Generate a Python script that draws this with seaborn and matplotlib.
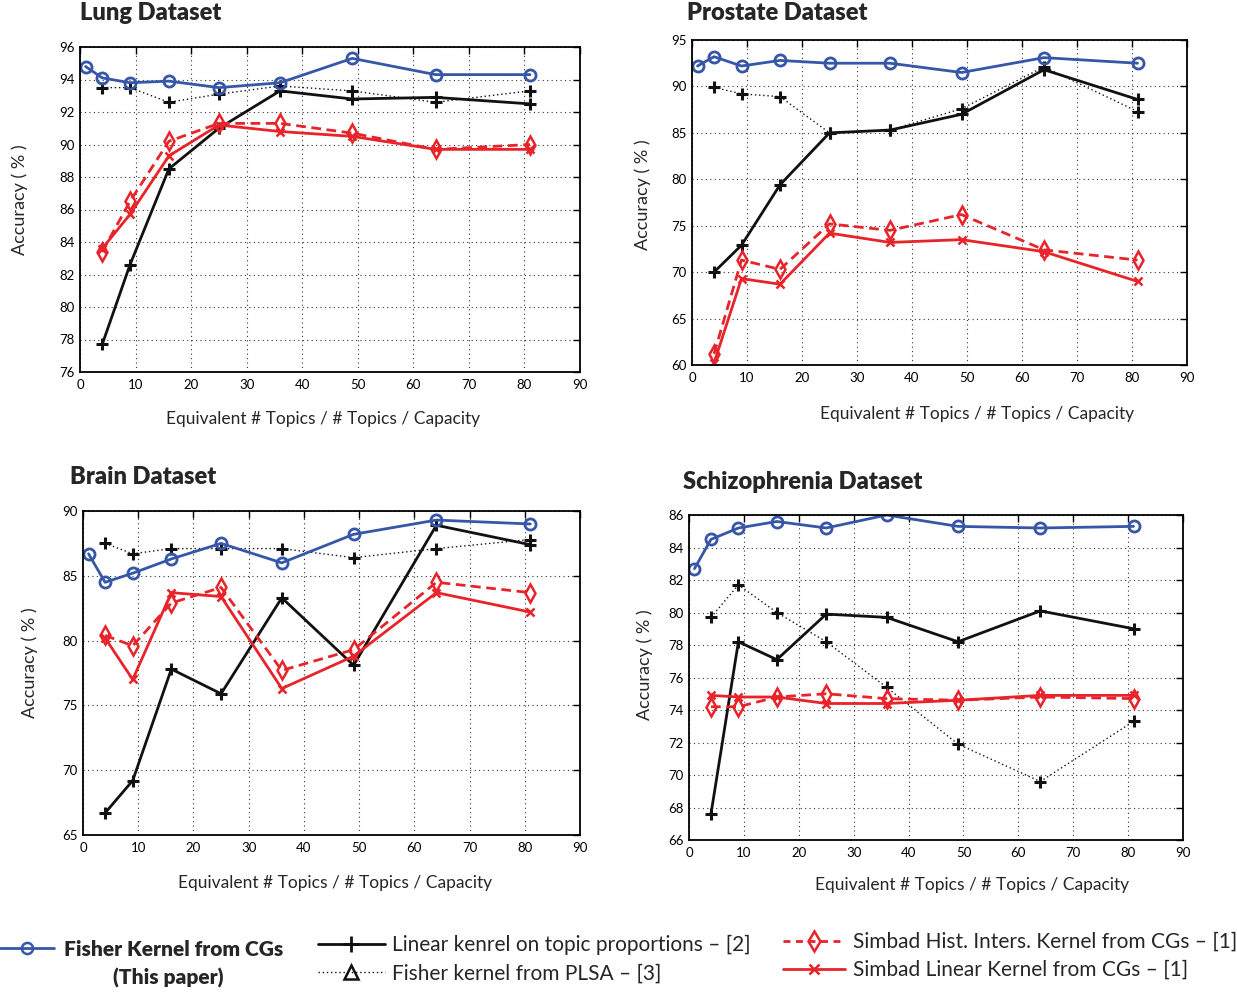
import numpy as np
import pandas as pd
import matplotlib
matplotlib.use("Agg")
import matplotlib.pyplot as plt
from matplotlib.lines import Line2D
import seaborn as sns

# ---------------- data ----------------
x_fisher = [1, 4, 9, 16, 25, 36, 49, 64, 81]
x_other = [4, 9, 16, 25, 36, 49, 64, 81]

datasets = ["Lung Dataset", "Prostate Dataset", "Brain Dataset", "Schizophrenia Dataset"]

lung_fisher = [94.8, 94.1, 93.8, 93.9, 93.5, 93.8, 95.3, 94.3, 94.3]
lung_linear = [77.7, 82.6, 88.5, 91.0, 93.3, 92.8, 92.9, 92.5]
lung_plsa = [93.5, 93.5, 92.6, 93.1, 93.6, 93.3, 92.6, 93.3]
lung_simhi = [83.4, 86.5, 90.2, 91.3, 91.3, 90.7, 89.7, 90.0]
lung_simlin = [83.6, 85.7, 89.3, 91.2, 90.8, 90.5, 89.7, 89.7]

prostate_fisher = [92.2, 93.2, 92.2, 92.8, 92.5, 92.5, 91.5, 93.1, 92.5]
prostate_linear = [70.0, 72.9, 79.4, 85.0, 85.3, 87.0, 91.8, 88.6]
prostate_plsa = [89.9, 89.2, 88.9, 85.0, 85.3, 87.6, 92.1, 87.3]
prostate_simhi = [61.2, 71.3, 70.3, 75.2, 74.5, 76.2, 72.4, 71.3]
prostate_simlin = [60.2, 69.3, 68.7, 74.2, 73.2, 73.5, 72.2, 69.0]

brain_fisher = [86.7, 84.5, 85.2, 86.3, 87.5, 86.0, 88.2, 89.3, 89.0]
brain_linear = [66.7, 69.2, 77.8, 75.9, 83.3, 78.1, 88.9, 87.4]
brain_plsa = [87.5, 86.7, 87.1, 87.1, 87.1, 86.4, 87.1, 87.8]
brain_simhi = [80.4, 79.6, 82.9, 84.1, 77.7, 79.3, 84.5, 83.7]
brain_simlin = [80.2, 77.0, 83.7, 83.4, 76.3, 78.8, 83.7, 82.2]

schizo_fisher = [82.7, 84.5, 85.2, 85.6, 85.2, 86.0, 85.3, 85.2, 85.3]
schizo_linear = [67.6, 78.2, 77.1, 79.9, 79.7, 78.2, 80.1, 79.0]
schizo_plsa = [79.7, 81.7, 80.0, 78.2, 75.4, 71.9, 69.6, 73.3]
schizo_simhi = [74.2, 74.2, 74.8, 75.0, 74.7, 74.6, 74.8, 74.7]
schizo_simlin = [74.9, 74.8, 74.8, 74.4, 74.4, 74.6, 74.9, 74.9]

y_limits = [(76, 96), (60, 95), (65, 90), (66, 86)]
y_steps = [2, 5, 5, 2]

legend_labels = [
    "Fisher Kernel from CGs",
    "Linear kenrel on topic proportions \u2013 [2]",
    "Fisher kernel from PLSA \u2013 [3]",
    "Simbad Hist. Inters. Kernel from CGs \u2013 [1]",
    "Simbad Linear Kernel from CGs \u2013 [1]",
]

x_label = "Equivalent # Topics / # Topics / Capacity"
y_label = "Accuracy ( % )"

# ---------------- style ----------------
sns.set_theme(style="white")
plt.rcParams["font.family"] = ["Lato", "DejaVu Sans"]

BLUE = "#3656a8"
RED = "#e8232a"
BLACK = "#111111"

W, H = 1237, 993
fig = plt.figure(figsize=(W / 100, H / 100), dpi=100)

# pixel boxes (left, top, right, bottom)
boxes = [(80, 47, 580, 372), (692, 40, 1187, 365), (83, 511, 580, 835), (689, 515, 1183, 840)]
title_pos = [(80, 13), (687, 13), (70, 477), (683, 482)]
xlabel_pos = [(323, 420), (977, 415), (335, 884), (972, 886)]
ylabel_pos = [(20, 200), (643, 195), (30, 663), (645, 665)]

all_series = [
    (lung_fisher, lung_linear, lung_plsa, lung_simhi, lung_simlin),
    (prostate_fisher, prostate_linear, prostate_plsa, prostate_simhi, prostate_simlin),
    (brain_fisher, brain_linear, brain_plsa, brain_simhi, brain_simlin),
    (schizo_fisher, schizo_linear, schizo_plsa, schizo_simhi, schizo_simlin),
]

for i, (name, series) in enumerate(zip(datasets, all_series)):
    l, t, r, b = boxes[i]
    ax = fig.add_axes([l / W, 1 - b / H, (r - l) / W, (b - t) / H])
    fisher, linear, plsa, simhi, simlin = series

    sns.lineplot(x=x_other, y=plsa, ax=ax, color=BLACK, linestyle=(0, (1, 2)), linewidth=1.0,
                 marker="+", markersize=8, markeredgewidth=2.2, markeredgecolor=BLACK)
    sns.lineplot(x=x_other, y=linear, ax=ax, color=BLACK, linewidth=2.0, marker="+",
                 markersize=8, markeredgewidth=2.2, markeredgecolor=BLACK)
    sns.lineplot(x=x_other, y=simhi, ax=ax, color=RED, linewidth=2.0, linestyle=(0, (3.5, 2)),
                 marker="d", markersize=9, markerfacecolor="none", markeredgecolor=RED,
                 markeredgewidth=1.8)
    sns.lineplot(x=x_other, y=simlin, ax=ax, color=RED, linewidth=2.0, marker="x",
                 markersize=6, markeredgecolor=RED, markeredgewidth=1.8)
    sns.lineplot(x=x_fisher, y=fisher, ax=ax, color=BLUE, linewidth=2.0, marker="o",
                 markersize=8, markerfacecolor="none", markeredgecolor=BLUE,
                 markeredgewidth=2.0)

    ax.set_xlim(0, 90)
    ax.set_xticks(np.arange(0, 91, 10))
    lo, hi = y_limits[i]
    ax.set_ylim(lo, hi)
    ax.set_yticks(np.arange(lo, hi + 0.1, y_steps[i]))
    ax.grid(True, color="#333333", linestyle=(0, (1, 3)), linewidth=0.8)
    for sp in ax.spines.values():
        sp.set_color("black")
        sp.set_linewidth(1.3)
    ax.tick_params(direction="in", length=5, width=1, top=True, right=True,
                   labelsize=9.5, colors="black", pad=4)
    ax.tick_params(axis="x", pad=5)

    ax.set_xlabel(x_label, fontsize=12.5)
    ax.set_ylabel(y_label, fontsize=13)
    xl, yl = xlabel_pos[i]
    ax.xaxis.set_label_coords((xl - l) / (r - l), -(yl - 9 - b) / (b - t))
    yx, yy = ylabel_pos[i]
    ax.yaxis.set_label_coords((yx + 8 - l) / (r - l), (b - yy) / (b - t))

    tx, ty = title_pos[i]
    fig.text(tx / W, 1 - ty / H, name, fontsize=17, fontweight="heavy", ha="left", va="center")

# ---------------- legend ----------------
h_fisher = Line2D([], [], color=BLUE, linewidth=2.0, marker="o", markersize=8,
                  markerfacecolor="none", markeredgecolor=BLUE, markeredgewidth=1.8)
h_linear = Line2D([], [], color=BLACK, linewidth=2.0, marker="+", markersize=11,
                  markeredgewidth=2.0)
h_plsa = Line2D([], [], color=BLACK, linewidth=1.0, linestyle=(0, (1, 2)), marker="^",
                markersize=10, markerfacecolor="none", markeredgecolor=BLACK, markeredgewidth=1.8)
h_simhi = Line2D([], [], color=RED, linewidth=2.0, linestyle=(0, (2.5, 2)), marker="d",
                 markersize=10, markerfacecolor="none", markeredgecolor=RED, markeredgewidth=1.8)
h_simlin = Line2D([], [], color=RED, linewidth=2.0, marker="x", markersize=7,
                  markeredgewidth=1.8)

fs = 15
leg1 = fig.legend([h_fisher], [legend_labels[0]], loc="center left",
                  bbox_to_anchor=(0 / W, 1 - 949 / H), frameon=False, borderpad=0,
                  borderaxespad=0, handlelength=2.6, handletextpad=0.45,
                  prop={"size": fs, "weight": "heavy"})
fig.text(168 / W, 1 - 978 / H, "(This paper)", fontsize=fs, fontweight="heavy",
         ha="center", va="center")
leg2 = fig.legend([h_linear, h_plsa], legend_labels[1:3], loc="center left",
                  bbox_to_anchor=(318 / W, 1 - 959 / H), frameon=False, borderpad=0,
                  borderaxespad=0, handlelength=3.2, handletextpad=0.35, labelspacing=0.4,
                  prop={"size": fs})
leg3 = fig.legend([h_simhi, h_simlin], legend_labels[3:5], loc="center left",
                  bbox_to_anchor=(783 / W, 1 - 956 / H), frameon=False, borderpad=0,
                  borderaxespad=0, handlelength=3.0, handletextpad=0.35, labelspacing=0.4,
                  prop={"size": fs})

fig.savefig("out.png", dpi=100)
